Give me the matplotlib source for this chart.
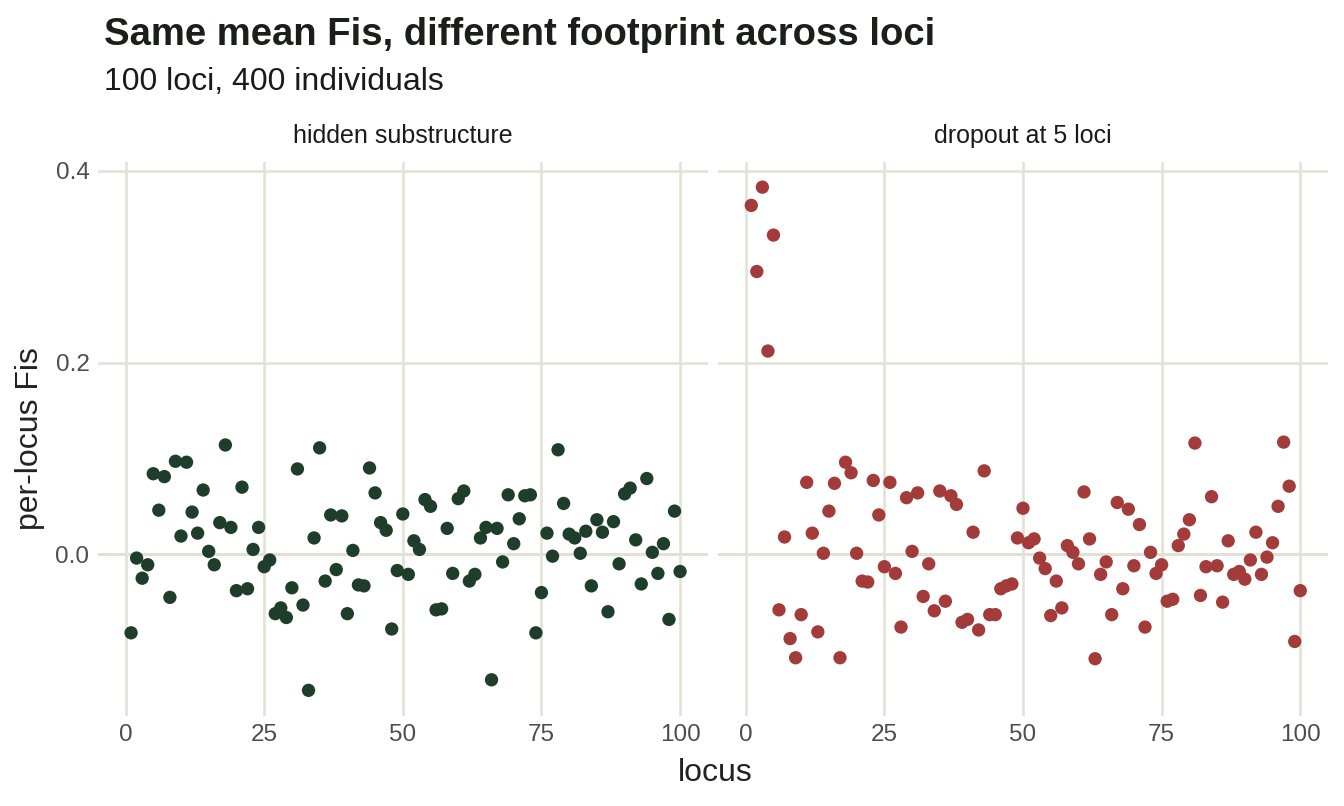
import matplotlib
matplotlib.use("Agg")
import matplotlib.pyplot as plt
import numpy as np

plt.rcParams['font.family'] = ['Liberation Sans', 'DejaVu Sans']

loci = list(range(1, 101))

hidden = [-0.082, -0.004, -0.025, -0.011, 0.084, 0.046, 0.081, -0.045, 0.097, 0.019,
          0.096, 0.044, 0.022, 0.067, 0.003, -0.011, 0.033, 0.114, 0.028, -0.038,
          0.070, -0.036, 0.005, 0.028, -0.013, -0.006, -0.062, -0.056, -0.066, -0.035,
          0.089, -0.053, -0.142, 0.017, 0.111, -0.028, 0.041, -0.016, 0.040, -0.062,
          0.004, -0.032, -0.033, 0.090, 0.064, 0.033, 0.025, -0.078, -0.017, 0.042,
          -0.021, 0.014, 0.005, 0.057, 0.050, -0.058, -0.057, 0.027, -0.020, 0.058,
          0.066, -0.028, -0.021, 0.017, 0.028, -0.131, 0.027, -0.008, 0.062, 0.011,
          0.037, 0.061, 0.062, -0.082, -0.040, 0.022, -0.002, 0.109, 0.053, 0.021,
          0.017, 0.001, 0.024, -0.033, 0.036, 0.023, -0.060, 0.034, -0.010, 0.063,
          0.069, 0.015, -0.031, 0.079, 0.002, -0.020, 0.011, -0.068, 0.045, -0.018]

dropout = [0.364, 0.295, 0.383, 0.212, 0.333, -0.058, 0.018, -0.088, -0.108, -0.063,
           0.075, 0.022, -0.081, 0.001, 0.045, 0.074, -0.108, 0.096, 0.085, 0.001,
           -0.028, -0.029, 0.077, 0.041, -0.013, 0.075, -0.020, -0.076, 0.059, 0.003,
           0.064, -0.044, -0.010, -0.059, 0.066, -0.049, 0.061, 0.052, -0.071, -0.068,
           0.023, -0.079, 0.087, -0.063, -0.063, -0.036, -0.033, -0.031, 0.017, 0.048,
           0.012, 0.016, -0.004, -0.015, -0.064, -0.028, -0.056, 0.009, 0.002, -0.010,
           0.065, 0.016, -0.109, -0.021, -0.008, -0.063, 0.054, -0.036, 0.047, -0.012,
           0.031, -0.076, 0.002, -0.020, -0.011, -0.049, -0.047, 0.009, 0.021, 0.036,
           0.116, -0.043, -0.013, 0.060, -0.012, -0.050, 0.014, -0.021, -0.018, -0.026,
           -0.006, 0.023, -0.021, -0.003, 0.012, 0.050, 0.117, 0.071, -0.091, -0.038]

panels = ["hidden substructure", "dropout at 5 loci"]
colors = ["#1f3d2b", "#a23b3a"]
series = [hidden, dropout]
x_ticks = [0, 25, 50, 75, 100]
y_ticks = [0.0, 0.2, 0.4]

W, H = 1344, 806
fig = plt.figure(figsize=(W / 100, H / 100), dpi=100)
fig.patch.set_facecolor("white")

allv = hidden + dropout
ymin, ymax = min(allv), max(allv)
pad = (ymax - ymin) * 0.05
ylim = (ymin - pad, ymax + pad)

grid_col = "#e2e2d6"
zero_col = "#d2d0bf"
ax_bottom = 1 - 715.5 / H
ax_top = 1 - 162 / H
lefts = [97.8, 718.0]
width = 610.0

axes = []
for i in range(2):
    ax = fig.add_axes([lefts[i] / W, ax_bottom, width / W, ax_top - ax_bottom])
    ax.set_facecolor("white")
    ax.set_xlim(-5, 105)
    ax.set_ylim(*ylim)
    ax.set_xticks(x_ticks)
    ax.set_yticks(y_ticks)
    ax.grid(True, color=grid_col, linewidth=1.9, zorder=0)
    ax.axhline(0, color=zero_col, linewidth=2.0, zorder=1)
    ax.scatter(loci, series[i], s=92, color=colors[i], edgecolors="none", zorder=3)
    for s in ax.spines.values():
        s.set_visible(False)
    ax.tick_params(length=0, labelsize=17.5, labelcolor="#4d4d4d", pad=6)
    ax.set_xticklabels([str(t) for t in x_ticks])
    if i == 0:
        ax.set_yticklabels(["0.0", "0.2", "0.4"])
    else:
        ax.set_yticklabels([])
    ax.set_title(panels[i], fontsize=18, color="#1a1a1a", pad=14)
    axes.append(ax)

fig.text(104 / W, 1 - 45 / H, "Same mean Fis, different footprint across loci",
         fontsize=27.5, fontweight="bold", color="#1a1f1c", ha="left", va="baseline")
fig.text(104 / W, 1 - 90 / H, "100 loci, 400 individuals",
         fontsize=23, color="#1a1a1a", ha="left", va="baseline")
fig.text(715 / W, 1 - 773 / H, "locus", fontsize=23, color="#222222",
         ha="center", va="center")
fig.text(30 / W, 1 - 439 / H, "per-locus Fis", fontsize=23, color="#222222",
         ha="center", va="center", rotation=90)

fig.savefig("out.png", dpi=100, facecolor="white")
